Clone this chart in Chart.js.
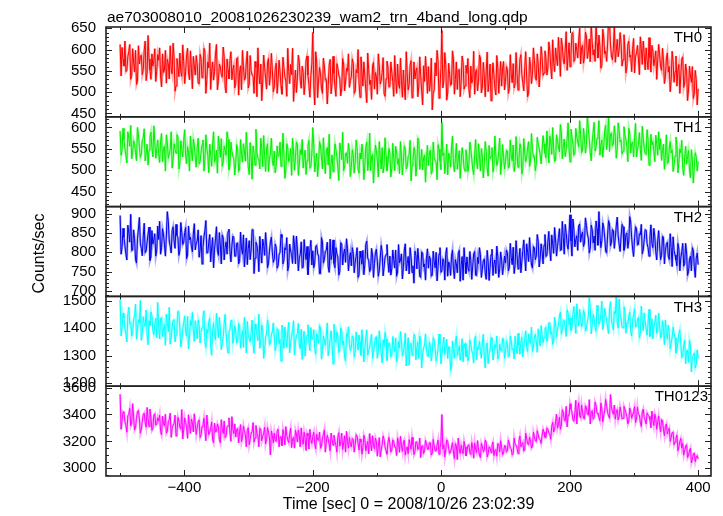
<!DOCTYPE html>
<html>
<head>
<meta charset="utf-8">
<script src="https://cdn.jsdelivr.net/npm/chart.js@4.4.1/dist/chart.umd.min.js"></script>
<style>
html,body{margin:0;padding:0;background:#fff;}
#wrap{width:723px;height:516px;position:relative;}
</style>
</head>
<body>
<div id="wrap"><canvas id="c" width="723" height="516"></canvas></div>
<script>
// ---- data: samples every 1.5 s from t = -500 to 400 s ----
// "th*" arrays hold samples at t = -500, -497, ... 400
// "th*Mid" arrays hold samples at t = -498.5, -495.5, ... 398.5
const timeStart = -500;
const timeStep = 3;
const midOffset = 1.5;

const th0 = [
612,605,561,548,583,612,540,571,598,525,566,587,553,620,545,578,530,561,602,549,
575,538,590,552,521,567,609,543,580,515,560,592,537,571,548,603,529,556,584,540,
566,519,578,541,595,530,557,506,571,548,612,527,560,535,583,498,552,574,529,563,
520,581,547,505,560,533,596,518,551,537,572,489,545,566,524,558,507,579,540,553,
512,568,530,547,495,558,526,603,520,541,478,552,533,570,509,546,522,585,515,539,
640,470,572,526,543,497,561,530,515,577,521,544,490,556,532,508,566,524,549,511,
536,568,502,545,522,583,514,540,475,553,528,561,507,537,590,519,546,497,531,559,
513,547,490,535,566,509,528,552,482,543,518,574,500,531,557,512,539,470,525,548,
560,521,458,505,538,572,512,645,527,565,498,541,519,578,530,506,553,524,570,515,
544,509,561,530,495,553,525,580,512,538,548,501,566,527,541,493,558,535,514,572,
525,553,508,540,567,519,546,531,588,522,557,536,497,562,541,575,528,566,548,583,
545,579,556,598,531,570,604,562,588,627,575,600,551,616,589,640,576,598,622,566,
610,583,632,595,571,618,600,660,580,607,562,628,596,613,665,585,603,570,624,599,
614,576,598,559,620,587,603,545,592,578,630,565,589,604,553,581,610,562,597,574,
588,551,575,536,592,560,529,571,548,514,565,540,583,522,549,505,538,560,497,530,
508];
const th0Mid = [
538,577,620,551,596,530,602,547,518,609,583,541,598,527,633,552,590,574,525,588,
604,512,546,598,577,531,555,615,502,579,536,549,611,520,588,545,597,508,562,586,
522,589,534,603,497,571,615,549,528,590,505,566,542,606,513,578,531,595,554,510,
579,493,562,598,528,571,510,586,540,497,558,604,519,480,587,532,569,516,591,501,
555,497,575,514,582,536,490,548,565,603,520,499,587,528,561,494,575,540,488,566,
515,595,487,558,509,580,528,472,563,496,584,512,567,540,491,579,503,556,590,527,
578,497,553,600,488,549,571,505,592,518,483,570,546,495,562,528,581,490,573,512,
571,525,586,497,521,580,488,512,595,505,562,487,571,549,489,583,503,562,584,497,
502,580,497,569,598,486,556,510,593,481,568,516,597,495,571,552,489,585,507,563,
579,487,521,596,548,503,587,498,570,489,594,527,480,569,509,586,497,572,556,505,
560,497,588,522,510,593,505,577,541,503,595,489,582,520,604,534,590,512,607,539,
597,540,618,559,623,548,580,629,537,609,566,642,585,560,638,572,615,580,650,604,
568,641,579,625,660,587,572,615,634,556,648,590,572,670,611,576,657,597,583,640,
561,635,545,612,582,548,626,583,610,541,602,620,552,575,628,547,596,578,530,612,
560,603,520,578,547,501,596,523,585,552,497,578,511,566,480,561,523,485,551,470];

const th1 = [
592,548,571,535,590,556,527,569,541,600,553,538,576,522,561,547,589,531,566,550,
539,567,520,556,583,528,549,505,562,540,578,516,551,570,534,555,498,547,573,529,
553,515,542,571,526,550,494,538,561,519,547,580,530,509,556,535,572,512,544,527,
518,549,503,537,562,521,545,490,533,557,512,541,526,575,508,534,551,497,540,523,
545,510,532,566,519,538,501,552,527,488,543,530,561,514,536,505,547,522,570,509,
600,496,540,518,557,503,529,545,512,480,536,521,549,507,564,525,499,538,516,543,
507,534,519,552,493,527,541,510,566,522,499,537,515,546,484,529,553,511,532,518,
540,505,528,556,514,492,533,520,549,508,537,475,523,545,512,570,518,501,535,526,
511,547,497,530,519,560,522,612,541,516,489,533,552,514,527,502,546,519,535,498,
529,512,550,503,537,520,562,498,531,515,544,486,527,553,509,536,521,575,517,532,
520,545,508,534,559,515,538,526,551,504,542,530,567,521,546,533,515,560,537,548,
562,529,555,580,537,551,524,569,543,590,556,532,572,548,596,561,539,578,555,584,
547,575,560,598,541,566,612,553,580,535,571,557,605,568,544,587,562,579,550,593,
570,545,583,556,598,540,566,577,531,560,548,603,552,537,571,528,559,544,582,535,
548,523,561,535,516,552,540,497,533,558,519,541,505,530,514,546,482,525,509,532,
520];
const th1Mid = [
535,598,550,517,574,605,541,560,522,583,530,569,597,540,512,578,553,604,528,571,
518,586,551,498,565,537,590,526,549,583,503,569,531,595,515,541,580,522,559,507,
575,520,559,498,583,536,561,509,590,527,493,558,574,519,547,590,501,566,533,489,
560,497,572,519,545,589,508,565,479,541,596,527,503,552,581,497,562,525,575,511,
494,557,535,509,587,481,562,520,551,575,500,566,488,548,572,529,490,559,505,538,
559,518,485,567,530,576,492,553,584,515,497,562,531,476,549,589,508,541,563,485,
548,493,571,502,540,561,478,553,499,587,531,470,559,522,567,503,494,576,498,551,
484,563,499,541,527,567,489,557,503,532,570,511,553,486,575,502,549,530,472,558,
540,492,566,523,478,549,501,534,492,561,540,507,580,496,563,526,481,553,505,548,
497,566,527,490,572,503,533,551,482,567,506,558,532,496,580,511,544,490,560,503,
547,505,571,522,497,579,507,562,491,574,520,553,509,586,531,499,577,551,515,581,
540,592,517,568,600,521,583,555,607,527,573,549,611,520,578,535,598,566,616,541,
598,540,628,571,522,589,545,574,616,559,530,593,548,632,585,557,604,528,611,566,
538,602,571,520,585,563,531,610,549,588,523,575,539,595,512,584,567,520,561,590,
574,547,502,583,519,567,548,512,578,494,550,570,488,556,532,503,548,470,541,498];

const th2 = [
895,812,838,795,870,826,804,858,781,835,890,810,842,799,827,865,788,821,848,805,
833,795,861,820,842,880,815,856,829,872,838,805,851,826,864,793,832,815,847,806,
829,787,843,812,856,798,825,775,838,808,866,792,819,845,780,827,853,801,816,838,
790,824,776,811,845,797,768,830,806,858,785,818,750,803,834,792,815,771,827,800,
782,813,765,800,838,779,806,752,821,794,843,770,808,786,827,761,799,815,778,831,
804,772,818,790,745,827,781,805,763,834,795,771,812,788,750,821,797,774,809,783,
765,798,775,812,742,786,805,768,829,779,756,793,771,808,738,785,801,762,794,776,
790,758,781,806,749,773,796,760,822,771,744,788,765,803,757,779,735,797,770,784,
759,783,741,775,800,763,812,752,778,795,738,769,790,756,781,747,805,766,728,774,
788,751,779,765,802,740,771,794,757,783,730,776,761,808,769,745,790,758,779,764,
772,799,760,786,813,768,794,781,747,805,788,822,776,796,759,811,790,828,784,803,
818,789,826,804,845,797,832,815,861,806,838,872,820,849,829,886,814,843,868,826,
852,823,870,836,811,859,842,881,818,847,830,865,803,844,873,826,855,837,891,820,
842,866,815,850,829,878,808,838,861,820,845,796,833,857,812,840,823,862,801,829,
817,792,838,805,826,781,812,840,793,765,808,786,823,771,798,750,790,812,763,784,
768];
const th2Mid = [
795,862,817,780,849,898,806,835,772,860,823,791,875,803,847,779,856,832,790,868,
880,812,848,790,905,829,798,866,810,843,792,877,820,851,783,868,839,801,874,824,
858,806,770,840,882,799,846,811,760,835,804,851,770,838,812,795,860,775,842,790,
823,770,852,795,762,837,810,781,858,745,826,800,841,772,818,851,760,803,839,774,
821,759,794,846,770,812,838,765,803,771,818,842,752,795,760,833,781,742,806,767,
760,815,797,745,838,772,803,826,748,781,832,760,796,741,825,767,808,835,752,799,
812,747,790,735,803,769,742,820,785,750,810,735,799,776,752,818,739,787,820,748,
741,806,759,738,820,780,731,805,752,789,812,748,720,792,810,738,801,762,728,809,
790,738,803,760,726,795,748,783,728,812,775,740,806,732,770,797,725,789,812,745,
760,802,730,796,741,787,812,735,778,746,805,727,793,740,780,816,735,801,742,790,
806,752,823,768,745,830,757,810,776,832,752,800,838,767,815,781,846,762,822,770,
846,792,854,778,822,864,790,838,805,880,795,851,808,897,790,860,832,805,873,845,
815,889,847,798,870,824,805,861,905,812,876,839,798,882,816,859,810,868,842,802,
872,805,846,810,892,837,789,866,819,848,872,806,858,822,790,871,812,840,780,856,
781,842,770,821,790,848,763,805,780,823,752,801,764,823,740,782,752,805,735,798];

const th3 = [
1505,1402,1438,1381,1450,1417,1372,1431,1489,1395,1420,1356,1443,1407,1378,1428,1460,1391,1412,1365,
1408,1437,1370,1415,1452,1388,1342,1405,1431,1376,1462,1399,1357,1421,1386,1445,1368,1410,1391,1428,
1362,1411,1385,1440,1350,1397,1423,1334,1392,1378,1456,1365,1402,1345,1418,1381,1310,1394,1429,1367,
1389,1352,1407,1371,1330,1398,1425,1363,1384,1341,1416,1377,1452,1355,1393,1320,1379,1408,1346,1387,
1372,1338,1395,1360,1412,1326,1366,1385,1310,1370,1428,1352,1381,1339,1397,1365,1298,1374,1349,1403,
1361,1327,1380,1345,1402,1318,1356,1374,1299,1363,1339,1415,1348,1372,1325,1390,1353,1280,1367,1342,
1330,1365,1312,1348,1376,1301,1342,1327,1395,1320,1355,1290,1338,1369,1315,1351,1273,1333,1362,1325,
1341,1302,1337,1365,1296,1328,1354,1311,1383,1320,1265,1345,1316,1371,1330,1290,1352,1308,1339,1321,
1297,1335,1311,1356,1280,1324,1342,1305,1368,1318,1289,1331,1260,1322,1349,1301,1336,1312,1277,1344,
1320,1293,1341,1307,1362,1285,1326,1315,1350,1298,1335,1270,1318,1354,1309,1330,1287,1342,1316,1361,
1312,1340,1298,1355,1326,1371,1307,1338,1350,1295,1362,1331,1380,1344,1316,1369,1352,1398,1335,1377,
1365,1404,1372,1420,1388,1352,1416,1398,1445,1379,1431,1402,1468,1413,1392,1450,1425,1490,1408,1437,
1418,1455,1397,1442,1478,1410,1436,1389,1461,1425,1500,1416,1447,1403,1470,1432,1395,1452,1421,1508,
1437,1402,1466,1420,1445,1388,1431,1472,1409,1440,1381,1426,1457,1398,1419,1370,1435,1405,1448,1392,
1410,1372,1398,1431,1360,1385,1345,1404,1366,1322,1380,1340,1301,1356,1318,1275,1337,1296,1310,1268,
1290];
const th3Mid = [
1372,1455,1398,1350,1478,1421,1385,1447,1360,1432,1502,1381,1418,1467,1340,1409,1445,1377,1438,1495,
1361,1440,1395,1338,1420,1477,1368,1429,1350,1411,1460,1332,1397,1446,1371,1325,1428,1458,1352,1401,
1430,1346,1402,1465,1330,1381,1437,1301,1420,1358,1412,1440,1322,1369,1451,1337,1389,1428,1345,1410,
1346,1418,1327,1392,1440,1310,1375,1352,1430,1309,1396,1355,1327,1412,1290,1368,1431,1340,1376,1420,
1318,1399,1342,1280,1386,1405,1330,1422,1347,1395,1303,1371,1418,1325,1286,1390,1352,1413,1318,1361,
1395,1305,1369,1410,1287,1372,1338,1420,1322,1391,1270,1359,1387,1311,1402,1340,1295,1381,1406,1318,
1372,1296,1387,1320,1350,1395,1277,1365,1302,1330,1379,1311,1366,1290,1391,1309,1358,1385,1282,1347,
1296,1370,1315,1278,1351,1388,1300,1335,1262,1366,1338,1301,1377,1285,1349,1372,1255,1328,1380,1299,
1350,1281,1366,1325,1298,1379,1270,1341,1305,1360,1332,1245,1354,1290,1372,1318,1283,1362,1339,1296,
1281,1357,1318,1273,1371,1330,1352,1290,1378,1255,1346,1308,1366,1284,1341,1372,1296,1320,1363,1290,
1355,1296,1372,1320,1288,1340,1382,1305,1367,1330,1391,1315,1352,1405,1330,1378,1312,1364,1410,1348,
1398,1352,1420,1378,1341,1441,1370,1412,1460,1395,1428,1370,1455,1438,1402,1480,1381,1444,1470,1405,
1466,1390,1425,1512,1380,1451,1405,1484,1415,1448,1395,1473,1430,1380,1498,1410,1462,1520,1401,1450,
1404,1478,1382,1415,1460,1372,1450,1405,1430,1365,1482,1392,1425,1375,1470,1400,1362,1420,1381,1456,
1365,1428,1340,1385,1412,1325,1368,1383,1310,1350,1395,1292,1338,1270,1320,1357,1240,1301,1255,1321];

const th0123 = [
3550,3355,3412,3318,3390,3445,3336,3378,3302,3421,3365,3290,3398,3340,3452,3311,3372,3296,3405,3330,
3352,3274,3388,3316,3261,3345,3410,3298,3331,3242,3379,3305,3436,3287,3340,3223,3318,3366,3270,3327,
3301,3360,3245,3318,3283,3395,3250,3297,3212,3336,3274,3308,3190,3289,3352,3241,3316,3265,3384,3258,
3232,3296,3270,3198,3315,3248,3281,3175,3262,3340,3226,3259,3160,3287,3238,3305,3215,3268,3100,3244,
3262,3201,3290,3235,3168,3248,3310,3212,3259,3154,3230,3282,3195,3241,3300,3178,3226,3260,3143,3216,
3238,3180,3255,3207,3149,3224,3286,3193,3218,3130,3211,3246,3172,3232,3165,3261,3189,3120,3205,3229,
3160,3213,3178,3239,3136,3194,3152,3220,3171,3108,3188,3242,3147,3199,3163,3085,3176,3214,3131,3190,
3182,3135,3201,3157,3226,3119,3168,3190,3098,3159,3213,3142,3175,3124,3196,3150,3080,3168,3131,3185,
3143,3190,3112,3165,3128,3210,3151,3400,3177,3137,3199,3110,3158,3121,3184,3065,3147,3172,3109,3160,
3128,3175,3102,3150,3189,3117,3143,3080,3161,3134,3195,3108,3152,3171,3095,3140,3183,3122,3156,3113,
3166,3131,3187,3145,3109,3178,3152,3203,3160,3191,3138,3220,3175,3204,3163,3235,3198,3250,3212,3243,
3268,3229,3290,3255,3312,3270,3345,3298,3380,3322,3415,3350,3308,3392,3440,3361,3405,3330,3487,3375,
3420,3368,3451,3395,3330,3428,3376,3470,3405,3355,3441,3390,3512,3415,3372,3455,3401,3365,3436,3388,
3415,3372,3440,3386,3352,3421,3396,3458,3365,3402,3340,3417,3378,3330,3395,3361,3425,3318,3372,3345,
3320,3362,3285,3310,3255,3298,3230,3270,3195,3248,3160,3222,3185,3130,3175,3098,3150,3065,3112,3085,
3070];
const th0123Mid = [
3290,3420,3345,3268,3402,3315,3480,3285,3372,3430,3260,3351,3410,3305,3368,3440,3282,3395,3320,3375,
3395,3248,3330,3402,3275,3361,3230,3322,3395,3266,3350,3290,3218,3375,3305,3398,3260,3340,3405,3252,
3345,3229,3310,3372,3205,3316,3268,3345,3190,3271,3330,3215,3362,3258,3228,3310,3375,3200,3295,3330,
3290,3188,3325,3231,3280,3160,3302,3215,3272,3195,3318,3240,3298,3205,3260,3180,3302,3225,3278,3190,
3205,3275,3160,3232,3287,3174,3245,3190,3298,3220,3150,3255,3285,3160,3215,3268,3132,3240,3290,3185,
3268,3145,3212,3270,3165,3250,3120,3245,3178,3262,3172,3198,3120,3265,3200,3140,3242,3275,3150,3180,
3222,3120,3250,3186,3218,3105,3245,3130,3200,3258,3130,3170,3225,3090,3228,3135,3240,3158,3105,3230,
3120,3212,3160,3095,3190,3238,3125,3210,3145,3108,3175,3230,3102,3195,3140,3225,3165,3110,3208,3142,
3190,3098,3215,3130,3175,3105,3190,3142,3085,3212,3150,3120,3190,3072,3168,3225,3110,3135,3200,3092,
3170,3115,3192,3075,3140,3206,3098,3185,3123,3210,3085,3160,3118,3195,3132,3090,3180,3205,3101,3168,
3120,3210,3150,3098,3225,3172,3110,3240,3175,3128,3260,3183,3232,3150,3268,3205,3280,3220,3185,3290,
3230,3300,3262,3215,3342,3290,3402,3330,3290,3435,3362,3460,3395,3480,3418,3350,3505,3432,3390,3470,
3372,3465,3402,3510,3420,3365,3492,3412,3378,3485,3345,3430,3462,3390,3548,3420,3470,3418,3360,3455,
3368,3460,3412,3330,3448,3372,3422,3340,3455,3396,3310,3440,3358,3412,3385,3300,3362,3402,3290,3390,
3270,3355,3242,3330,3280,3200,3265,3175,3225,3130,3200,3150,3098,3165,3080,3130,3040,3108,3050,3095];

// tick labels
const xTicksMajor = [-400,-200,0,200,400];
const xTicksMinor = [-500,-300,-100,100,300];
const th0Ticks = [450,500,550,600,650];
const th1Ticks = [450,500,550,600];
const th2Ticks = [700,750,800,850,900];
const th3Ticks = [1200,1300,1400,1500];
const th0123Ticks = [3000,3200,3400,3600];
const panelNames = ['TH0','TH1','TH2','TH3','TH0123'];

const titleText = 'ae703008010_20081026230239_wam2_trn_4band_long.qdp';
const xTitle = 'Time [sec] 0 = 2008/10/26 23:02:39';
const yTitle = 'Counts/sec';

// ---- build chart ----
const FONT = '"Liberation Sans", Arial, Helvetica, sans-serif';

function mergeSamples(main, mid) {
  const pts = [];
  main.forEach((v, i) => {
    pts.push({x: timeStart + i * timeStep, y: v});
    if (i < mid.length) pts.push({x: timeStart + i * timeStep + midOffset, y: mid[i]});
  });
  return pts;
}

const panels = [
  {name: panelNames[0], pts: mergeSamples(th0, th0Mid),       color: [255,0,0],   min: 442,  max: 653,  ticks: th0Ticks,    minor: 10, labelRight: 702},
  {name: panelNames[1], pts: mergeSamples(th1, th1Mid),       color: [0,240,0],   min: 415,  max: 625,  ticks: th1Ticks,    minor: 10, labelRight: 702},
  {name: panelNames[2], pts: mergeSamples(th2, th2Mid),       color: [0,0,238],   min: 686,  max: 918,  ticks: th2Ticks,    minor: 10, labelRight: 702},
  {name: panelNames[3], pts: mergeSamples(th3, th3Mid),       color: [0,255,255], min: 1188, max: 1517, ticks: th3Ticks,    minor: 20, labelRight: 702},
  {name: panelNames[4], pts: mergeSamples(th0123, th0123Mid), color: [255,0,255], min: 2943, max: 3610, ticks: th0123Ticks, minor: 50, labelRight: 708}
];

const datasets = [];
const scales = {
  x: {
    type: 'linear', position: 'bottom', min: -522, max: 420,
    afterBuildTicks: s => { s.ticks = xTicksMajor.map(v => ({value: v})); },
    afterFit: s => { s.height = 40; },
    grid: {display: false, drawTicks: false},
    border: {display: false},
    ticks: {
      autoSkip: false, maxRotation: 0, padding: 3, color: '#000',
      font: {family: FONT, size: 15},
      callback: v => (v < 0 ? '\u2212' + Math.abs(v) : String(v))
    },
    title: {display: true, text: xTitle, color: '#000', font: {family: FONT, size: 16}, padding: {top: 0, bottom: 2}}
  }
};

panels.forEach((p, i) => {
  const id = 'y' + i;
  const [r, g, b] = p.color;
  datasets.push({
    data: p.pts, yAxisID: id, xAxisID: 'x',
    borderColor: `rgba(${r},${g},${b},0.35)`, borderWidth: 2.4,
    pointRadius: 0, tension: 0, order: 2
  });
  datasets.push({
    data: p.pts, yAxisID: id, xAxisID: 'x',
    borderColor: `rgb(${r},${g},${b})`, borderWidth: 1,
    pointRadius: 0, tension: 0, order: 1
  });
  scales[id] = {
    type: 'linear', position: 'left', stack: 'panels', stackWeight: 1,
    weight: panels.length - i,
    min: p.min, max: p.max,
    afterBuildTicks: s => { s.ticks = p.ticks.map(v => ({value: v})); },
    afterFit: s => { s.width = 106; },
    grid: {display: false, drawTicks: false},
    border: {display: false},
    ticks: {autoSkip: false, padding: 10, color: '#000', font: {family: FONT, size: 15},
            callback: v => String(v)}
  };
});

const framePlugin = {
  id: 'frames',
  afterDatasetsDraw(chart) {
    const ctx = chart.ctx;
    const xs = chart.scales.x;
    const L = chart.chartArea.left, R = chart.chartArea.right;
    ctx.save();
    panels.forEach((p, i) => {
      const ys = chart.scales['y' + i];
      const T = ys.top, B = ys.bottom;
      ctx.strokeStyle = '#222';
      ctx.lineWidth = 1;
      ctx.beginPath();
      xTicksMajor.concat(xTicksMinor).forEach(v => {
        const px = Math.round(xs.getPixelForValue(v)) + 0.5;
        const len = xTicksMajor.includes(v) ? 6 : 3;
        ctx.moveTo(px, T); ctx.lineTo(px, T + len);
        ctx.moveTo(px, B); ctx.lineTo(px, B - len);
      });
      const start = Math.ceil(p.min / p.minor) * p.minor;
      for (let v = start; v <= p.max; v += p.minor) {
        const py = Math.round(ys.getPixelForValue(v)) + 0.5;
        const len = p.ticks.includes(v) ? 6 : 3;
        ctx.moveTo(L, py); ctx.lineTo(L + len, py);
        ctx.moveTo(R, py); ctx.lineTo(R - len, py);
      }
      ctx.stroke();
      ctx.lineWidth = 1.6;
      ctx.strokeRect(L, T, R - L, B - T);
      ctx.fillStyle = '#000';
      ctx.font = '15px ' + FONT;
      ctx.textAlign = 'right';
      ctx.textBaseline = 'middle';
      ctx.fillText(p.name, p.labelRight, T + 11);
    });
    // plot title
    ctx.font = '15.5px ' + FONT;
    ctx.textAlign = 'left';
    ctx.textBaseline = 'alphabetic';
    ctx.fillText(titleText, 107, 22);
    // y title
    ctx.translate(40, (chart.chartArea.top + chart.chartArea.bottom) / 2 + 2);
    ctx.rotate(-Math.PI / 2);
    ctx.textAlign = 'center';
    ctx.textBaseline = 'middle';
    ctx.font = '16px ' + FONT;
    ctx.fillText(yTitle, 0, 0);
    ctx.restore();
  }
};

new Chart(document.getElementById('c'), {
  type: 'line',
  data: {datasets},
  options: {
    responsive: false,
    animation: false,
    devicePixelRatio: 1,
    layout: {padding: {left: 0, right: 12, top: 27, bottom: 0}},
    plugins: {legend: {display: false}, tooltip: {enabled: false}, title: {display: false}},
    scales
  },
  plugins: [framePlugin]
});
</script>
</body>
</html>
